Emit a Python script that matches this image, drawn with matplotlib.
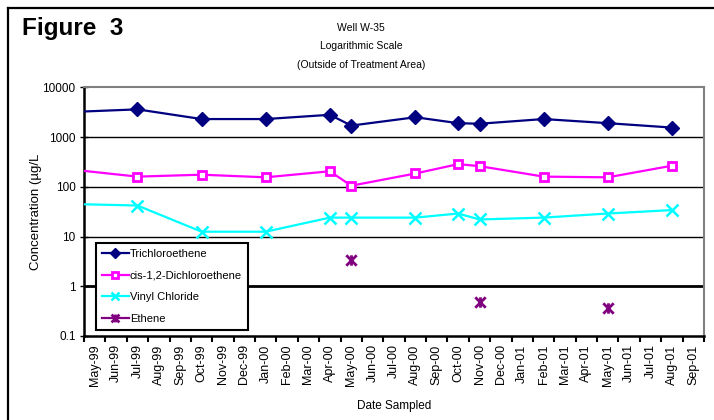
import matplotlib
matplotlib.use("Agg")
import matplotlib.pyplot as plt
import numpy as np
import pandas as pd
from matplotlib.path import Path
from matplotlib.lines import Line2D

# ---- data ----
month_labels = ["May-99", "Jun-99", "Jul-99", "Aug-99", "Sep-99", "Oct-99", "Nov-99", "Dec-99",
                "Jan-00", "Feb-00", "Mar-00", "Apr-00", "May-00", "Jun-00", "Jul-00", "Aug-00",
                "Sep-00", "Oct-00", "Nov-00", "Dec-00", "Jan-01", "Feb-01", "Mar-01", "Apr-01",
                "May-01", "Jun-01", "Jul-01", "Aug-01", "Sep-01"]
first_month = "1999-05"
sample_dates = ["1999-04", "1999-07", "1999-10", "2000-01", "2000-04", "2000-05",
                "2000-08", "2000-10", "2000-11", "2001-02", "2001-05", "2001-08"]
tce = [3200, 3600, 2300, 2300, 2800, 1700, 2500, 1900, 1850, 2300, 1900, 1550]
dce = [220, 160, 175, 155, 205, 105, 185, 285, 260, 160, 155, 265]
vc = [45, 42, 12.5, 12.5, 24, 24, 24, 29, 22, 24, 29, 34]
ethene = [np.nan, np.nan, np.nan, np.nan, np.nan, 3.4, np.nan, np.nan, 0.49, np.nan, 0.37, np.nan]
y_ticks = [0.1, 1, 10, 100, 1000, 10000]
y_tick_labels = ["0.1", "1", "10", "100", "1000", "10000"]

# month index of each sample (centre of month slot)
p0 = pd.Period(first_month, freq="M")
xs = np.array([(pd.Period(d, freq="M") - p0).n for d in sample_dates], dtype=float)

plt.rcParams['font.family'] = ['Liberation Sans', 'DejaVu Sans']

fig = plt.figure(figsize=(7.14, 4.2), dpi=100)
ax = fig.add_axes([84/714, 1-336/420, 620/714, (336-87.3)/420])

star = Path([(-1, -1), (1, 1), (-1, 1), (1, -1), (0, -1), (0, 1)],
            [Path.MOVETO, Path.LINETO, Path.MOVETO, Path.LINETO, Path.MOVETO, Path.LINETO])

# grid lines
for v in [10, 100, 1000]:
    ax.axhline(v, color='black', lw=1.0, zorder=1)
ax.axhline(1, color='black', lw=2.0, zorder=1)

ax.plot(xs, tce, color='#000080', lw=1.6, marker='D', ms=7, mfc='#000080', mec='#000080',
        label='Trichloroethene', zorder=5)
ax.plot(xs, dce, color='#FF00FF', lw=1.6, marker='s', ms=6, mfc='white', mec='#FF00FF', mew=2,
        label='cis-1,2-Dichloroethene', zorder=4)
ax.plot(xs, vc, color='#00FFFF', lw=1.6, marker='x', ms=8, mew=1.8, mec='#00FFFF',
        label='Vinyl Chloride', zorder=3)
ax.plot(xs, ethene, color='#800080', lw=1.6, marker=star, ms=7.5, mew=2, mec='#800080',
        label='Ethene', zorder=3)

ax.set_yscale('log')
ax.set_ylim(0.1, 10000)
ax.set_xlim(-0.5, len(month_labels) - 0.5)
ax.yaxis.set_major_locator(matplotlib.ticker.FixedLocator(y_ticks))
ax.yaxis.set_minor_locator(matplotlib.ticker.NullLocator())
ax.set_yticklabels(y_tick_labels, fontsize=8.5)
ax.tick_params(axis='y', direction='inout', length=6, width=1.0, pad=3)

ax.set_xticks(np.arange(-0.5, len(month_labels), 1.0))
ax.set_xticklabels([])
ax.set_xticks(np.arange(len(month_labels)), minor=True)
ax.set_xticklabels(month_labels, minor=True, rotation=90, fontsize=9)
ax.tick_params(axis='x', which='major', direction='out', length=4, width=1.5)
ax.tick_params(axis='x', which='minor', length=0, pad=6)

for s in ['left', 'bottom']:
    ax.spines[s].set_color('black')
    ax.spines[s].set_linewidth(1.8)
for s in ['top', 'right']:
    ax.spines[s].set_color('#808080')
    ax.spines[s].set_linewidth(1.5)

ax.set_ylabel('Concentration (µg/L', fontsize=9.5)
ax.set_xlabel('Date Sampled', fontsize=8.5, labelpad=10,
              family=['Liberation Sans Narrow', 'Liberation Sans', 'DejaVu Sans'])
ax.yaxis.set_label_coords(-0.067, 0.5)

leg = ax.legend(loc='lower left', bbox_to_anchor=(0.019, 0.024), borderaxespad=0,
                fontsize=8, frameon=True, fancybox=False, framealpha=1, edgecolor='black',
                handlelength=2.4, labelspacing=1.05, handletextpad=0.1, borderpad=0.55,
                markerscale=0.75)
leg.get_frame().set_linewidth(1.5)
leg.set_zorder(10)

# title
narrow = ['Liberation Sans Narrow', 'Liberation Sans', 'DejaVu Sans']
fig.text(361/714, 1-28/420, 'Well W-35', ha='center', va='center', fontsize=7.5, family=narrow)
fig.text(361/714, 1-46/420, 'Logarithmic Scale', ha='center', va='center', fontsize=7.5, family=narrow)
fig.text(361/714, 1-65/420, '(Outside of Treatment Area)', ha='center', va='center', fontsize=7.5, family=narrow)
fig.text(22/714, 1-28/420, 'Figure  3', ha='left', va='center', fontsize=17.5, fontweight='bold')

# figure border (left and top)
fig.add_artist(Line2D([8/714, 8/714], [0, 1-8/420], color='black', lw=1.6))
fig.add_artist(Line2D([8/714, 1], [1-8/420, 1-8/420], color='black', lw=1.6))

fig.savefig('out.png', dpi=100)
